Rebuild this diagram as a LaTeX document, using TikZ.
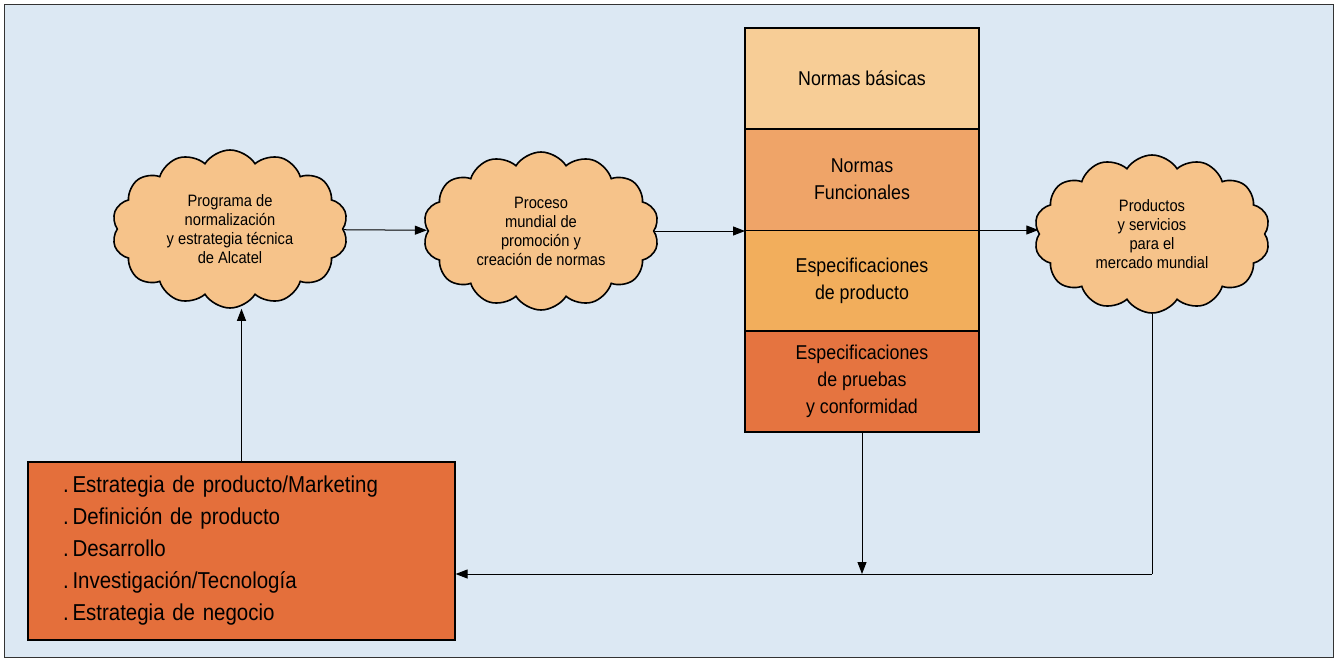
\documentclass[tikz,border=0pt]{standalone}
\usepackage{fontspec}
\newfontfamily\arialn[FakeStretch=0.89]{Liberation Sans}
\usepackage{xcolor}
\usepackage{tikz}
\usetikzlibrary{arrows.meta, positioning, calc, shapes.symbols}

\definecolor{fondo}{RGB}{220,232,243}
\definecolor{nube}{RGB}{246,195,138}
\definecolor{basica}{RGB}{247,205,150}
\definecolor{funcional}{RGB}{239,164,104}
\definecolor{especif}{RGB}{242,174,92}
\definecolor{pruebas}{RGB}{229,116,64}
\definecolor{lista}{RGB}{228,111,59}

\begin{document}
\begin{tikzpicture}[
		x=1pt, y=-1pt,
		nube/.style={draw, line width=1.6pt, cloud, cloud puffs=14, cloud puff arc=115, aspect=1.5, fill=nube,
			minimum width=236, minimum height=158, align=center, inner sep=0pt,
			font=\arialn\fontsize{16.5}{19}\selectfont},
		capa/.style={minimum width=234, minimum height=101, align=center,
			inner sep=0pt, outer sep=0pt, font=\arialn\fontsize{20}{27}\selectfont},
		arr/.style={-{Triangle[length=12,width=9]}, line width=1pt},
		linea/.style={line width=1pt}
	]
		\useasboundingbox (0,0) rectangle (1338,661);
		\draw[fill=fondo, line width=1pt, draw=black!80] (4,5) rectangle (1333,657);

		% Nubes
		\node[nube] (prog) at (230,229) {Programa de\\normalización\\y estrategia técnica\\de Alcatel};
		\node[nube] (proc) at (541,231) {Proceso\\mundial de\\promoción y\\creación de normas};
		\node[nube] (merc) at (1152,234) {Productos\\y servicios\\para el\\mercado mundial};

		% Pila de normas
		\node[capa, fill=basica, anchor=north west] (basicas) at (745,28) {Normas básicas};
		\node[capa, fill=funcional, below=0pt of basicas] (funcionales) {Normas\\Funcionales};
		\node[capa, fill=especif, below=0pt of funcionales] (producto) {Especificaciones\\de producto};
		\node[capa, fill=pruebas, below=0pt of producto] (conform) {Especificaciones\\de pruebas\\y conformidad};
		\draw[line width=1.6pt] (basicas.south west) -- (basicas.south east);
		\draw[linea] (funcionales.south west) -- (funcionales.south east);
		\draw[line width=1.6pt] (producto.south west) -- (producto.south east);
		\draw[line width=1.6pt] (basicas.north west) rectangle (conform.south east);

		% Caja inferior
		\node[draw, line width=1.2pt, fill=lista, minimum width=427, minimum height=178, text width=357,
			inner xsep=35, align=left, font=\arialn\fontsize{23}{32}\selectfont] (acciones) at (241.5,551)
			{.\,Estrategia de producto/Marketing\\.\,Definición de producto\\.\,Desarrollo\\.\,Investigación/Tecnología\\.\,Estrategia de negocio};

		% Conexiones
		\coordinate (esquina) at (merc.south |- 0,574);
		\draw[arr] (prog) -- (proc);
		\draw[arr] (proc.east) -- (proc.east -| basicas.west);
		\draw[arr] (funcionales.south east) -- (funcionales.south east -| merc.west);
		\draw[linea] (merc.south) -- (esquina);
		\draw[arr] (esquina) -- (esquina -| acciones.east);
		\draw[arr] (conform.south) -- (conform.south |- esquina);
		\draw[arr] (acciones.north) -- (acciones.north |- prog.south);
	\end{tikzpicture}
\end{document}
